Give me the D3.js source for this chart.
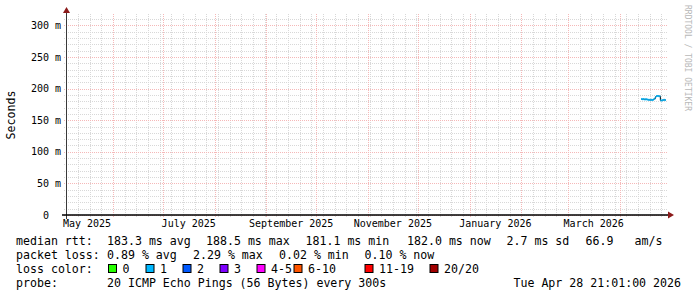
<!DOCTYPE html>
<html>
<head>
<meta charset="utf-8">
<script src="https://cdn.jsdelivr.net/npm/d3@7"></script>
<style>
  body { margin: 0; background: #fff; }
  text { font-family: "DejaVu Sans Mono", monospace; white-space: pre; }
</style>
</head>
<body>
<div id="chart"></div>
<script>
// median rtt samples (seconds are shown in ms on the axis)
var rttDates = [
  "2026-04-14T00:00Z", "2026-04-14T12:00Z", "2026-04-15T00:00Z", "2026-04-15T12:00Z",
  "2026-04-16T00:00Z", "2026-04-16T12:00Z", "2026-04-17T00:00Z", "2026-04-17T12:00Z",
  "2026-04-18T00:00Z", "2026-04-18T12:00Z", "2026-04-19T00:00Z", "2026-04-19T12:00Z",
  "2026-04-20T00:00Z", "2026-04-20T12:00Z", "2026-04-21T00:00Z", "2026-04-21T12:00Z",
  "2026-04-22T00:00Z", "2026-04-22T12:00Z", "2026-04-23T00:00Z", "2026-04-23T12:00Z",
  "2026-04-24T00:00Z", "2026-04-24T12:00Z", "2026-04-25T00:00Z", "2026-04-25T12:00Z",
  "2026-04-26T00:00Z", "2026-04-26T12:00Z", "2026-04-27T00:00Z", "2026-04-27T12:00Z",
  "2026-04-28T00:00Z", "2026-04-28T12:00Z"
];
var rttMedian = [
  183.4, 183.1, 183.6, 183.2, 182.9, 183.3, 183.0, 182.7,
  182.4, 182.1, 182.3, 181.9, 182.2, 182.0, 182.4, 183.5,
  184.2, 186.9, 188.2, 188.5, 188.4, 188.1, 187.9, 181.5,
  181.1, 181.6, 181.8, 182.3, 181.9, 182.0
];
// index into lossLabels / lossColors for each sample
var rttLoss = [
  1, 1, 1, 1, 1, 1, 1, 1, 1, 1, 1, 1, 1, 1, 1, 1,
  1, 1, 1, 1, 1, 1, 1, 1, 1, 1, 1, 1, 1, 1
];

var lossLabels = ["0", "1", "2", "3", "4-5", "6-10", "11-19", "20/20"];
var lossColors = ["#26ff00", "#00b8ff", "#0059ff", "#7e00ff", "#ff00ff", "#ff5500", "#ff0000", "#a10000"];

var yTicks = [0, 50, 100, 150, 200, 250, 300];
var yTickLabels = ["0  ", "50 m", "100 m", "150 m", "200 m", "250 m", "300 m"];

var graphEnd = new Date("2026-04-28T21:01:00Z");
var graphStart = new Date(graphEnd.getTime() - 360 * 24 * 3600 * 1000);

var rttRow = [
  ["median rtt:", 16], ["183.3 ms avg", 107], ["188.5 ms max", 206], ["181.1 ms min", 305.5],
  ["182.0 ms now", 407], ["2.7 ms sd", 506.5], ["66.9", 585.5], ["am/s", 634.5]
];
var lossRow = [
  ["packet loss:", 16], ["0.89 % avg", 107], ["2.29 % max", 193], ["0.02 % min", 279], ["0.10 % now", 364.5]
];
// swatch left edges in the legend row
var lossBoxX = [108, 145.5, 182.5, 219.5, 256.5, 293.5, 364.5, 429.5];

var svgWidth = 697;
var svgHeight = 297;

var xOrigin = 66;
var yOrigin = 215;
var xSize = 600;
var ySize = 200;

var minorColor = "#d8d8d8";
var majorColor = "#f5b8b8";

var svg = d3.select("#chart")
  .append("svg")
  .attr("width", svgWidth)
  .attr("height", svgHeight);

svg.append("rect")
  .attr("width", svgWidth)
  .attr("height", svgHeight)
  .attr("fill", "#fff");

var xScale = d3.scaleUtc()
  .domain([graphStart, graphEnd])
  .range([xOrigin, xOrigin + xSize]);

var yScale = d3.scaleLinear()
  .domain([0, 316.5])
  .range([yOrigin, yOrigin - ySize]);

// minor grid: every 10 ms and every week
var gridGroup = svg.append("g");

gridGroup.selectAll(".hminor")
  .data(d3.range(10, 320, 10).filter(d => d % 50 !== 0))
  .enter()
  .append("line")
  .attr("x1", xOrigin - 2)
  .attr("x2", xOrigin + xSize + 2)
  .attr("y1", d => Math.round(yScale(d)) + 0.5)
  .attr("y2", d => Math.round(yScale(d)) + 0.5)
  .attr("stroke", minorColor)
  .attr("stroke-dasharray", "1,1");

gridGroup.selectAll(".vminor")
  .data(d3.utcSunday.range(graphStart, graphEnd))
  .enter()
  .append("line")
  .attr("x1", d => Math.round(xScale(d)) + 0.5)
  .attr("x2", d => Math.round(xScale(d)) + 0.5)
  .attr("y1", yOrigin + 2)
  .attr("y2", yOrigin - ySize - 2)
  .attr("stroke", minorColor)
  .attr("stroke-dasharray", "1,1");

// major grid: every 50 ms and every month
gridGroup.selectAll(".hmajor")
  .data(yTicks)
  .enter()
  .append("line")
  .attr("x1", xOrigin - 2)
  .attr("x2", xOrigin + xSize + 2)
  .attr("y1", d => Math.round(yScale(d)) + 0.5)
  .attr("y2", d => Math.round(yScale(d)) + 0.5)
  .attr("stroke", majorColor)
  .attr("stroke-dasharray", "1,1");

gridGroup.selectAll(".vmajor")
  .data(d3.utcMonth.range(graphStart, graphEnd))
  .enter()
  .append("line")
  .attr("x1", d => Math.round(xScale(d)) + 0.5)
  .attr("x2", d => Math.round(xScale(d)) + 0.5)
  .attr("y1", yOrigin + 2)
  .attr("y2", yOrigin - ySize - 2)
  .attr("stroke", majorColor)
  .attr("stroke-dasharray", "1,1");

// y tick labels
svg.selectAll(".ylab")
  .data(yTicks)
  .enter()
  .append("text")
  .attr("x", 61)
  .attr("y", d => yScale(d))
  .attr("dy", "0.35em")
  .attr("text-anchor", "end")
  .attr("font-size", "10px")
  .attr("fill", "#000")
  .text((d, i) => yTickLabels[i]);

// x labels, centred in every other month
var labelMonths = d3.utcMonth.every(2).range(d3.utcMonth.floor(graphStart), graphEnd);
svg.selectAll(".xlab")
  .data(labelMonths)
  .enter()
  .append("text")
  .attr("x", d => (xScale(d) + xScale(d3.utcMonth.offset(d, 1))) / 2)
  .attr("y", 227)
  .attr("text-anchor", "middle")
  .attr("font-size", "10px")
  .attr("fill", "#000")
  .text(d => d3.utcFormat("%B %Y")(d));

// median line: black steps with loss coloured segments on top
var rttData = rttDates.map((d, i) => ({ date: new Date(d), value: rttMedian[i], loss: rttLoss[i] }));
var stepData = rttData.concat([{ date: graphEnd, value: rttMedian[rttMedian.length - 1] }]);

var stepLine = d3.line()
  .x(d => xScale(d.date))
  .y(d => yScale(d.value))
  .curve(d3.curveStepAfter);

svg.append("path")
  .datum(stepData)
  .attr("d", stepLine)
  .attr("fill", "none")
  .attr("stroke", "#000")
  .attr("stroke-width", 1);

svg.selectAll(".seg")
  .data(rttData)
  .enter()
  .append("line")
  .attr("x1", d => xScale(d.date))
  .attr("x2", (d, i) => xScale(stepData[i + 1].date))
  .attr("y1", d => yScale(d.value))
  .attr("y2", d => yScale(d.value))
  .attr("stroke", d => lossColors[d.loss])
  .attr("stroke-width", 2);

// axes with arrows
svg.append("line")
  .attr("x1", xOrigin + 0.5)
  .attr("x2", xOrigin + 0.5)
  .attr("y1", yOrigin + 4)
  .attr("y2", yOrigin - ySize - 4)
  .attr("stroke", "#3a3a3a");

svg.append("line")
  .attr("x1", xOrigin - 4)
  .attr("x2", xOrigin + xSize + 4)
  .attr("y1", yOrigin)
  .attr("y2", yOrigin)
  .attr("stroke", "#000")
  .attr("stroke-width", 1.6);

svg.append("path")
  .attr("d", `M${xOrigin + xSize + 2},${yOrigin - 3.5}L${xOrigin + xSize + 8},${yOrigin}L${xOrigin + xSize + 2},${yOrigin + 3.5}Z`)
  .attr("fill", "#8b1a1a");

svg.append("path")
  .attr("d", `M${xOrigin - 3},${yOrigin - ySize - 2}L${xOrigin + 0.5},${yOrigin - ySize - 8}L${xOrigin + 4},${yOrigin - ySize - 2}Z`)
  .attr("fill", "#8b1a1a");

// vertical axis title
svg.append("text")
  .attr("transform", `translate(15, ${yOrigin - ySize / 2}) rotate(-90)`)
  .attr("text-anchor", "middle")
  .attr("font-size", "11.6px")
  .attr("fill", "#000")
  .text("Seconds");

// watermark
svg.append("text")
  .attr("transform", "translate(685, 5) rotate(90)")
  .attr("font-size", "8px")
  .attr("fill", "#b8b8b8")
  .text("RRDTOOL / TOBI OETIKER");

// legend
var legend = svg.append("g")
  .attr("font-size", "11.6px")
  .attr("fill", "#000");

legend.selectAll(".rtt")
  .data(rttRow)
  .enter()
  .append("text")
  .attr("x", d => d[1])
  .attr("y", 245)
  .text(d => d[0]);

legend.selectAll(".loss")
  .data(lossRow)
  .enter()
  .append("text")
  .attr("x", d => d[1])
  .attr("y", 259)
  .text(d => d[0]);

legend.append("text")
  .attr("x", 16)
  .attr("y", 273)
  .text("loss color:");

legend.selectAll(".lbox")
  .data(lossLabels)
  .enter()
  .append("rect")
  .attr("x", (d, i) => lossBoxX[i] + 0.5)
  .attr("y", 264.5)
  .attr("width", 8)
  .attr("height", 8)
  .attr("fill", (d, i) => lossColors[i])
  .attr("stroke", "#000");

legend.selectAll(".ltext")
  .data(lossLabels)
  .enter()
  .append("text")
  .attr("x", (d, i) => lossBoxX[i] + 14.5)
  .attr("y", 273)
  .text(d => d);

legend.append("text")
  .attr("x", 16)
  .attr("y", 287)
  .text("probe:");

legend.append("text")
  .attr("x", 107)
  .attr("y", 287)
  .text("20 ICMP Echo Pings (56 Bytes) every 300s");

legend.append("text")
  .attr("x", 681)
  .attr("y", 287)
  .attr("text-anchor", "end")
  .text("Tue Apr 28 21:01:00 2026");
</script>
</body>
</html>
